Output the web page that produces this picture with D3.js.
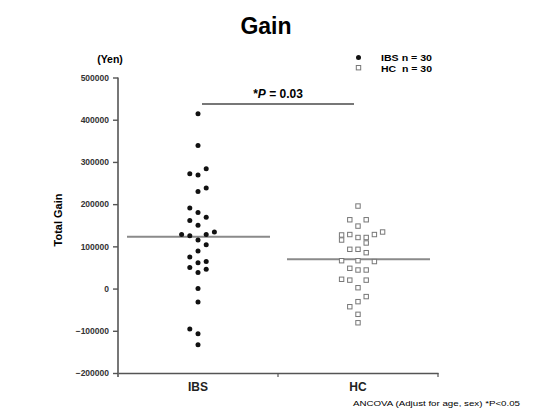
<!DOCTYPE html>
<html>
<head>
<meta charset="utf-8">
<script src="https://cdn.jsdelivr.net/npm/d3@7"></script>
<style>
body { margin: 0; background: #fff; }
text { font-family: "Liberation Sans", Arial, sans-serif; }
</style>
</head>
<body>
<div id="chart"></div>
<script>
// group names
var groups = ["IBS", "HC"];

var ibsValues = [414000, 339000, 284000, 272000, 269000, 238000, 230000, 191000, 180000, 169000,
	161000, 150000, 128000, 125000, 128000, 134000, 115000, 104000, 89000, 75000,
	61000, 64000, 50000, 46000, 38000, 0, -32000, -96000, -107000, -133000];
var ibsSlots = [0, 0, 1, -1, 0, 1, 0, -1, 0, 1,
	-1, 0, -2, -1, 1, 2, 0, 1, 0, -1,
	0, 1, -1, 1, 0, 0, 0, -1, 0, 0];

// HC total gain (yen) and jitter slot
var hcValues = [195500, 163000, 163000, 148000, 127000, 115000, 128000, 121000, 121000, 128000,
	134000, 108000, 93000, 93000, 85000, 66000, 66000, 64000, 48000, 44000,
	44000, 22000, 20000, 20000, 2000, -19000, -31000, -43000, -61000, -81000];
var hcSlots = [0, -1, 1, 0, -2, -2, -1, 0, 1, 2,
	3, 1, -1, 0, 1, -2, 0, 2, -1, 0,
	1, -2, -1, 1, 0, 1, 0, -1, 0, 0];

var yTicks = [-200000, -100000, 0, 100000, 200000, 300000, 400000, 500000];
var legendLabels = ["IBS n = 30", "HC  n = 30"];

var W = 533, H = 413;
var SLOT = 8.2;

var svg = d3.select("#chart").append("svg")
	.attr("width", W)
	.attr("height", H);

var x = d3.scaleBand().domain(groups).range([118, 438]);
var y = d3.scaleLinear().domain([-200000, 500000]).range([373, 77.5]);

//TITLE
svg.append("text")
	.attr("x", 266).attr("y", 34)
	.attr("text-anchor", "middle")
	.style("font-size", "23px").style("font-weight", "bold")
	.text("Gain");

//Y AXIS
var yAxis = svg.append("g")
	.attr("transform", "translate(118,0)")
	.call(d3.axisLeft(y).tickValues(yTicks).tickSize(5).tickSizeOuter(0).tickPadding(4)
		.tickFormat(d3.format("d")));
yAxis.select(".domain").attr("stroke", "#555").attr("stroke-width", 1.6)
	.attr("d", "M0," + y(500000) + "V" + (y(-200000) + 4));
yAxis.selectAll(".tick line").attr("stroke", "#555").attr("stroke-width", 1.4);
yAxis.selectAll(".tick text")
	.style("font-size", "8.5px").style("font-weight", "bold").attr("fill", "#333")
	.style("font-family", "'Liberation Sans', Arial, sans-serif");

//X AXIS
var xAxis = svg.append("g")
	.attr("transform", "translate(0," + y(-200000) + ")")
	.call(d3.axisBottom(x).tickSize(0).tickSizeOuter(0).tickPadding(9));
xAxis.select(".domain").attr("stroke", "#555").attr("stroke-width", 1.6);
xAxis.selectAll(".tick text")
	.style("font-size", "12px").style("font-weight", "bold").attr("fill", "#222")
	.style("font-family", "'Liberation Sans', Arial, sans-serif");
xAxis.selectAll("line.edge")
	.data(groups)
	.enter().append("line")
	.attr("class", "edge")
	.attr("x1", function(d){ return x(d) + x.bandwidth(); })
	.attr("x2", function(d){ return x(d) + x.bandwidth(); })
	.attr("y1", 0).attr("y2", 4)
	.attr("stroke", "#555").attr("stroke-width", 1.2);

//AXIS LABELS
svg.append("text")
	.attr("transform", "translate(62,220) rotate(-90)")
	.attr("text-anchor", "middle")
	.style("font-size", "11px").style("font-weight", "bold")
	.text("Total Gain");
svg.append("text")
	.attr("x", 110).attr("y", 63)
	.attr("text-anchor", "middle")
	.style("font-size", "10.5px").style("font-weight", "bold")
	.text("(Yen)");

//MEAN LINES
var series = [
	{name: "IBS", values: ibsValues, slots: ibsSlots},
	{name: "HC", values: hcValues, slots: hcSlots}
];
series.forEach(function(s){
	var m = d3.mean(s.values);
	svg.append("line")
		.attr("x1", x(s.name) + 9).attr("x2", x(s.name) + x.bandwidth() - 8)
		.attr("y1", y(m)).attr("y2", y(m))
		.attr("stroke", "#8a8a8a").attr("stroke-width", 2);
});

function cx(s, i){
	return x(s.name) + x.bandwidth() / 2 + s.slots[i] * SLOT;
}

//IBS DOTS
svg.append("g").selectAll("circle")
	.data(ibsValues)
	.enter().append("circle")
	.attr("cx", function(d, i){ return cx(series[0], i); })
	.attr("cy", function(d){ return y(d); })
	.attr("r", 2.5)
	.attr("fill", "#111");

//HC SQUARES
svg.append("g").selectAll("rect")
	.data(hcValues)
	.enter().append("rect")
	.attr("x", function(d, i){ return cx(series[1], i) - 2.2; })
	.attr("y", function(d){ return y(d) - 2.2; })
	.attr("width", 4.4).attr("height", 4.4)
	.attr("fill", "#fff")
	.attr("stroke", "#777").attr("stroke-width", 1);

//SIGNIFICANCE BRACKET
var bx1 = x("IBS") + x.bandwidth() / 2 + 4;
var bx2 = x("HC") + x.bandwidth() / 2 - 4;
svg.append("line")
	.attr("x1", bx1).attr("x2", bx2)
	.attr("y1", 104).attr("y2", 104)
	.attr("stroke", "#777").attr("stroke-width", 2);
var pText = svg.append("text")
	.attr("x", (bx1 + bx2) / 2).attr("y", 98)
	.attr("text-anchor", "middle")
	.style("font-size", "12px").style("font-weight", "bold");
pText.append("tspan").text("*");
pText.append("tspan").style("font-style", "italic").text("P");
pText.append("tspan").text(" = 0.03");

//LEGEND
var legend = svg.append("g");
legend.append("circle").attr("cx", 358.5).attr("cy", 57.5).attr("r", 2.5).attr("fill", "#111");
legend.append("rect").attr("x", 356.3).attr("y", 65.5).attr("width", 4.4).attr("height", 4.4)
	.attr("fill", "#fff").attr("stroke", "#777").attr("stroke-width", 1);
legend.selectAll("text")
	.data(legendLabels)
	.enter().append("text")
	.attr("x", 381)
	.attr("y", function(d, i){ return 60.5 + i * 11; })
	.attr("textLength", 51)
	.attr("lengthAdjust", "spacingAndGlyphs")
	.style("font-size", "8.5px").style("font-weight", "bold")
	.attr("xml:space", "preserve")
	.style("white-space", "pre")
	.text(function(d){ return d; });

//FOOTNOTE
svg.append("text")
	.attr("x", 353).attr("y", 406)
	.attr("textLength", 167)
	.attr("lengthAdjust", "spacingAndGlyphs")
	.style("font-size", "8px")
	.text("ANCOVA (Adjust for age, sex) *P<0.05");
</script>
</body>
</html>
